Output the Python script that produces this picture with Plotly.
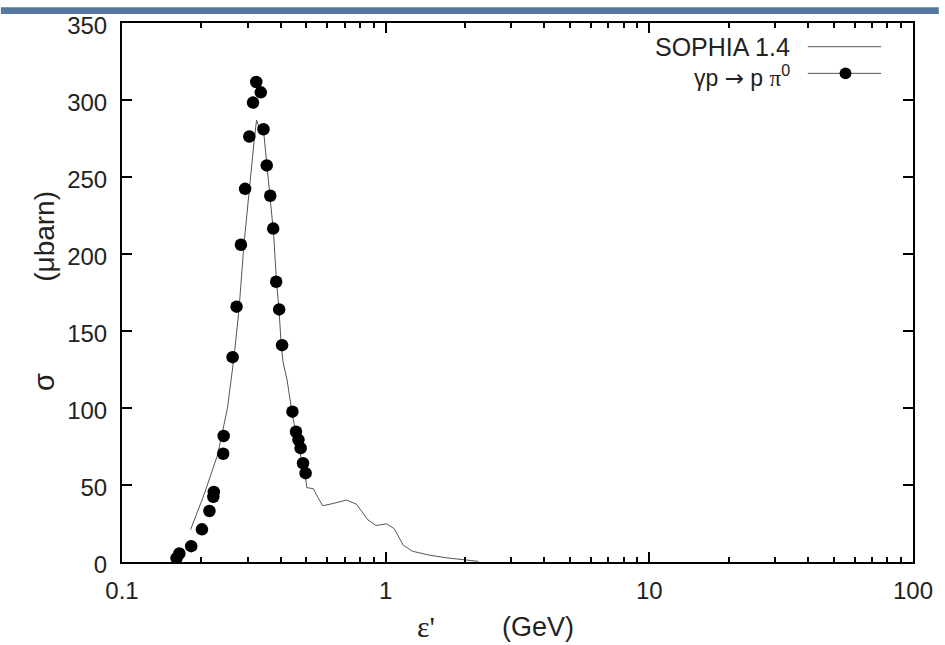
import plotly.graph_objects as go

# Measured photoproduction cross section, gamma p -> p pi0
data_e = [0.161, 0.165, 0.183, 0.201, 0.2146, 0.222, 0.223, 0.242, 0.243,
          0.2627, 0.272, 0.2825, 0.293, 0.304, 0.314, 0.323, 0.336, 0.344,
          0.354, 0.365, 0.3745, 0.3844, 0.3945, 0.4047, 0.443, 0.457, 0.467,
          0.476, 0.486, 0.497]
data_sigma = [2.5, 5.5, 10.3, 21.2, 33.1, 42.3, 45.5, 70.3, 81.8,
              133.0, 165.8, 206.0, 242.3, 276.3, 298.3, 311.7, 305.0, 281.0,
              257.5, 237.8, 216.5, 182.0, 164.0, 140.8, 97.6, 84.6, 79.3,
              73.9, 64.1, 57.7]

# SOPHIA 1.4 model curve
model_e = [0.182, 0.205, 0.2306, 0.251, 0.266, 0.278, 0.290, 0.303, 0.3167,
           0.3238, 0.330, 0.3447, 0.356, 0.366, 0.376, 0.385, 0.394, 0.402,
           0.408, 0.423, 0.441, 0.460, 0.480, 0.4975, 0.502, 0.532, 0.545,
           0.577, 0.632, 0.710, 0.774, 0.856, 0.920, 1.009, 1.078, 1.166,
           1.263, 1.459, 1.686, 1.946, 2.12, 2.25]
model_sigma = [21.0, 44.0, 69.7, 99.6, 133.0, 164.5, 206.0, 240.6, 272.6,
               287.0, 283.0, 279.0, 255.6, 236.3, 212.8, 182.9, 163.7, 140.2,
               130.0, 118.0, 97.4, 80.3, 65.4, 54.0, 48.3, 47.6, 44.0,
               36.5, 38.0, 40.2, 37.6, 27.4, 23.7, 24.8, 21.6, 10.9,
               7.0, 4.5, 2.8, 1.7, 0.8, 0.4]

x_tickvals = [0.1, 1, 10, 100]
x_ticktext = ["0.1", "1", "10", "100"]
y_tickvals = [0, 50, 100, 150, 200, 250, 300, 350]

W, H = 945, 645
L, R, T, B = 122, 26, 16, 83
PW, PH = W - L - R, H - T - B


def px(x):
    return (x - L) / PW


def py(y):
    return (H - B - y) / PH


SANS = "Liberation Sans, Arial, Helvetica, sans-serif"
SERIF = "Liberation Serif, Times New Roman, serif"
INK = "#222222"

fig = go.Figure()
fig.add_trace(go.Scatter(
    x=model_e, y=model_sigma, mode="lines",
    line=dict(color="#555555", width=1),
    showlegend=False,
))
fig.add_trace(go.Scatter(
    x=data_e, y=data_sigma, mode="markers",
    marker=dict(color="black", size=12.5, line=dict(width=0)),
    showlegend=False,
))

axis_common = dict(
    showline=True, linecolor="black", linewidth=2, mirror="allticks",
    ticks="inside", ticklen=10, tickwidth=1.5, tickcolor="black",
    showgrid=False, zeroline=False,
    tickfont=dict(family=SANS, size=24, color=INK),
)

fig.update_xaxes(
    type="log", range=[-1, 2],
    tickmode="array", tickvals=x_tickvals, ticktext=x_ticktext,
    minor=dict(ticks="inside", ticklen=5, tickwidth=1.5, tickcolor="black",
               dtick="D1", showgrid=False),
    ticklabelstandoff=6,
    **axis_common,
)
fig.update_yaxes(
    range=[0, 350], tickmode="array", tickvals=y_tickvals,
    ticklabelstandoff=8, ticklabelshift=3,
    **axis_common,
)

key_data_label = ('γp <span style="font-family:DejaVu Sans">→</span> p '
                  '<span style="font-family:Liberation Serif">π</span><sup>0</sup>')

annotations = [
    # axis titles
    dict(x=px(428), y=py(627), text="ε'", font=dict(family=SERIF, size=30, color=INK)),
    dict(x=px(541), y=py(628), text="(GeV)", font=dict(family=SANS, size=27, color=INK)),
    dict(x=px(44), y=py(380), text="σ", textangle=-90, font=dict(family=SANS, size=29, color=INK)),
    dict(x=px(44), y=py(232), text="(μbarn)", textangle=-90, font=dict(family=SANS, size=28, color=INK)),
    # key
    dict(x=px(797), y=py(40), text="SOPHIA 1.4", xanchor="right",
         font=dict(family=SANS, size=25, color=INK)),
    dict(x=px(797), y=py(70), text=key_data_label, xanchor="right",
         font=dict(family=SANS, size=23, color=INK)),
]
for a in annotations:
    a.setdefault("xanchor", "center")
    a.update(xref="paper", yref="paper", yanchor="middle", showarrow=False)

shapes = [
    dict(type="line", xref="paper", yref="paper", x0=px(813), x1=px(887),
         y0=py(40), y1=py(40), line=dict(color="#555555", width=1)),
    dict(type="line", xref="paper", yref="paper", x0=px(813), x1=px(887),
         y0=py(67), y1=py(67), line=dict(color="#555555", width=1)),
    dict(type="circle", xref="paper", yref="paper", x0=px(845), x1=px(857),
         y0=py(61), y1=py(73), fillcolor="black", line=dict(width=0)),
    # header strip along the top edge
    dict(type="rect", xref="paper", yref="paper", x0=px(0), x1=px(W),
         y0=py(7), y1=py(0), fillcolor="#56789f", line=dict(width=0),
         layer="above"),
]

fig.update_layout(
    width=W, height=H,
    margin=dict(l=L, r=R, t=T, b=B),
    paper_bgcolor="white", plot_bgcolor="white",
    annotations=annotations, shapes=shapes,
    showlegend=False,
)

fig.write_html("out.html")
